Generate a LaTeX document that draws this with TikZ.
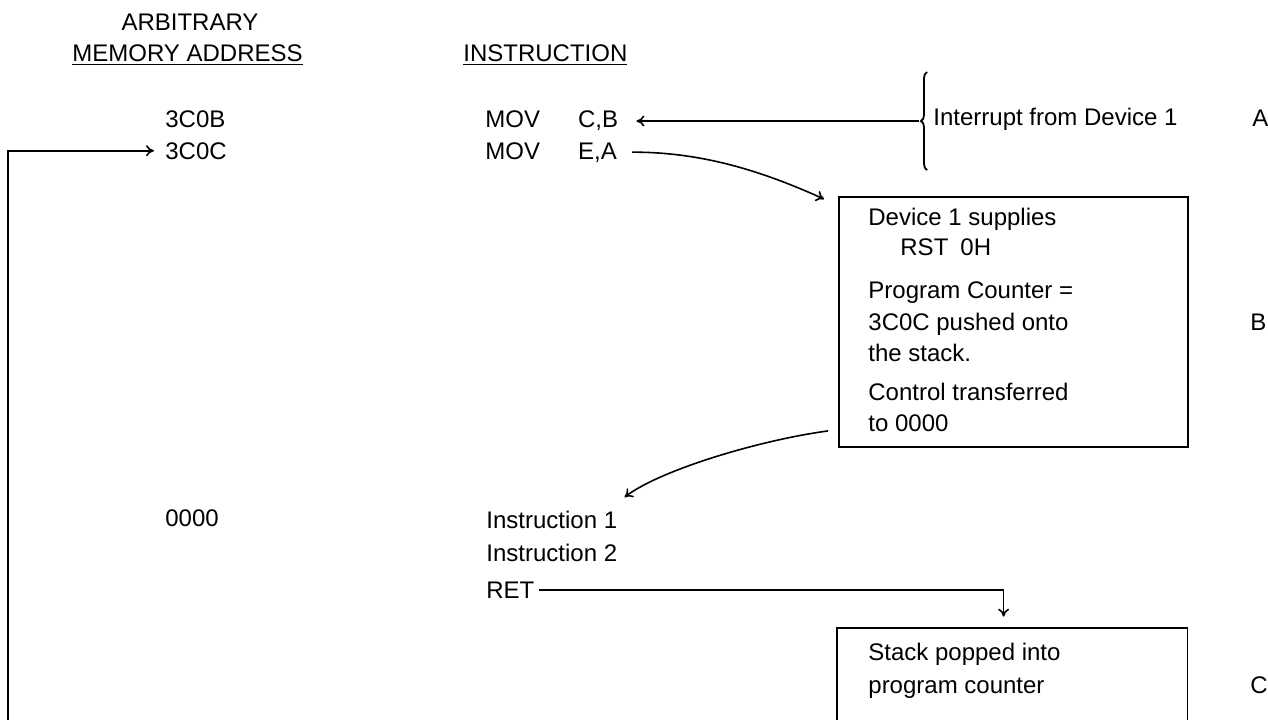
\documentclass[tikz,border=0pt]{standalone}
\usepackage{fontspec}
\setmainfont{Liberation Sans}
\usetikzlibrary{arrows.meta,calc,decorations.pathreplacing}
\begin{document}
\begin{tikzpicture}[x=0.5pt,y=-0.5pt,
  lbl/.style={inner sep=0pt, font=\fontsize{12pt}{14pt}\selectfont},
  conn/.style={line width=0.8pt, -{To[length=4pt,width=5.5pt]}},
  boxline/.style={line width=0.9pt},
]
\fill[white] (0,0) rectangle (1268,719);
\useasboundingbox (0,0) rectangle (1268,719);

% headings
\node[lbl,anchor=base] (arb) at (190,30) {ARBITRARY};
\node[lbl,anchor=base west] (mem) at (72,61) {\underline{MEMORY ADDRESS}};
\node[lbl,anchor=base west] (ins) at (463,61) {\underline{INSTRUCTION}};

% addresses
\node[lbl,anchor=base west] (a3c0b) at (165,127) {3C0B};
\node[lbl,anchor=base west] (a3c0c) at (165,159) {3C0C};
\node[lbl,anchor=base west] (a0000) at (165,526) {0000};

% instructions
\node[lbl,anchor=base west] (movcb) at (485,127) {MOV\hspace{19pt}C,B};
\node[lbl,anchor=base west] (movea) at (485,159) {MOV\hspace{19pt}E,A};
\node[lbl,anchor=base west] (ins1) at (486,528) {Instruction 1};
\node[lbl,anchor=base west] (ins2) at (486,561) {Instruction 2};
\node[lbl,anchor=base west] (ret) at (486,598) {RET};

% interrupt
\node[lbl,anchor=base west] (intr) at (933,125) {Interrupt from Device 1};
\node[lbl,anchor=base west] (labA) at (1252,126) {A};

% box B
\node[draw,boxline,minimum width=174.5pt,minimum height=125pt,inner sep=0pt] (boxB) at (1013.5,322) {};
\node[lbl,anchor=base west] (b1) at (868,225) {Device 1 supplies};
\node[lbl,anchor=base west] (b2) at (900,255) {RST\hspace{6pt}0H};
\node[lbl,anchor=base west] (b3) at (868,298) {Program Counter =};
\node[lbl,anchor=base west] (b4) at (868,330) {3C0C pushed onto};
\node[lbl,anchor=base west] (b5) at (868,361) {the stack.};
\node[lbl,anchor=base west] (b6) at (868,400) {Control transferred};
\node[lbl,anchor=base west] (b7) at (868,431) {to 0000};
\node[lbl,anchor=base west] (labB) at (1250,330) {B};

% box C (open at the bottom)
\node[minimum width=175pt,minimum height=48.5pt,inner sep=0pt] (boxC) at (1012,676.5) {};
\draw[boxline] (boxC.south west) -- (boxC.north west) -- (boxC.north east) -- (boxC.south east);
\node[lbl,anchor=base west] (c1) at (868,660) {Stack popped into};
\node[lbl,anchor=base west] (c2) at (868,693) {program counter};
\node[lbl,anchor=base west] (labC) at (1250,693) {C};

% brace
\coordinate (brB) at (927,170);
\coordinate (brT) at (927,72);
\draw[boxline,decorate,decoration={brace,amplitude=3pt}] (brB) -- (brT);
\coordinate (brtip) at ($(brB)!0.5!(brT)+(-8,0)$);

% connectors
\coordinate (lb) at (8,725);
\draw[conn] (lb) |- ([xshift=-5.5pt]a3c0c.west);
\draw[conn] (brtip) -- ([xshift=9pt]brtip -| movcb.east);
\draw[conn] ([xshift=7.5pt]movea.east) .. controls (700,152) and (760,170) .. ($(boxB.north west)+(-14,3)$);
\draw[conn] ($(boxB.south west)+(-10,-17)$) .. controls (760,440) and (660,470) .. ($(ins1.north east)+(7,-13)$);
\coordinate (retT) at ($(boxC.north west)+(167,-11)$);
\draw[conn] ([xshift=2pt]ret.east) -| (retT);
\end{tikzpicture}
\end{document}
